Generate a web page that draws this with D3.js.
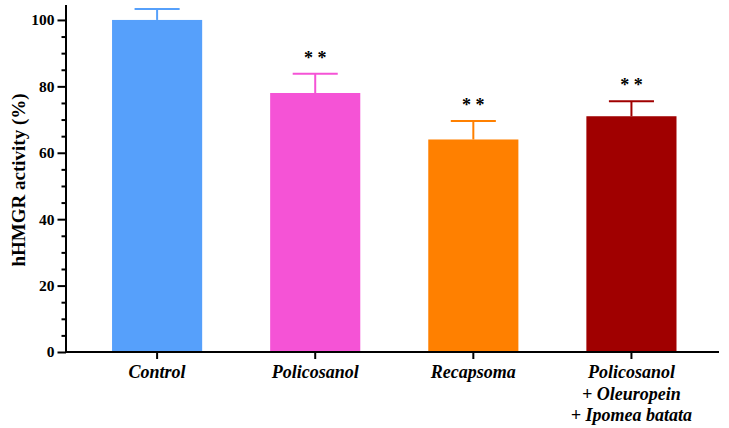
<!DOCTYPE html>
<html>
<head>
<meta charset="utf-8">
<script src="https://cdn.jsdelivr.net/npm/d3@7"></script>
<style>
  body { margin: 0; background: #fff; }
  svg { display: block; font-family: "Liberation Serif", "Times New Roman", serif; }
</style>
</head>
<body>
<svg class="chart" width="729" height="428"></svg>
<script>
// chart data
const categories = ["Control", "Policosanol", "Recapsoma", "Combo"];
const labelLines = [
  ["Control"],
  ["Policosanol"],
  ["Recapsoma"],
  ["Policosanol", "+ Oleuropein", "+ Ipomea batata"]
];
const values = [100, 78, 64, 71];
const errors = [3.3, 5.8, 5.6, 4.5];
const signif = ["", "* *", "* *", "* *"];
const colors = ["#56a0fb", "#f553d6", "#ff8000", "#a00000"];
const majorTicks = [0, 20, 40, 60, 80, 100];
const minorTicks = d3.range(0, 101, 5);

const svg = d3.select(".chart");

const x = d3.scaleBand()
  .domain(categories)
  .range([66, 719])
  .paddingInner(0.43)
  .paddingOuter(0.28)
  .align(0.52);

const y = d3.scaleLinear()
  .domain([0, 104.5])
  .range([352, 5]);

const rows = categories.map((c, i) => ({
  cat: c, value: values[i], err: errors[i], sig: signif[i], color: colors[i], lines: labelLines[i]
}));

// bars
svg.selectAll("rect.bar")
  .data(rows)
  .enter().append("rect")
  .attr("class", "bar")
  .attr("x", d => x(d.cat))
  .attr("width", x.bandwidth())
  .attr("y", d => y(d.value))
  .attr("height", d => y(0) - y(d.value))
  .attr("fill", d => d.color);

// error bars (upper only)
const eb = svg.selectAll("g.err")
  .data(rows)
  .enter().append("g")
  .attr("class", "err")
  .attr("stroke", d => d.color)
  .attr("stroke-width", 2);

eb.append("line")
  .attr("x1", d => x(d.cat) + x.bandwidth() / 2)
  .attr("x2", d => x(d.cat) + x.bandwidth() / 2)
  .attr("y1", d => y(d.value))
  .attr("y2", d => y(d.value + d.err));

eb.append("line")
  .attr("x1", d => x(d.cat) + x.bandwidth() / 4)
  .attr("x2", d => x(d.cat) + x.bandwidth() * 3 / 4)
  .attr("y1", d => y(d.value + d.err))
  .attr("y2", d => y(d.value + d.err));

// significance stars
svg.selectAll("text.sig")
  .data(rows)
  .enter().append("text")
  .attr("class", "sig")
  .attr("x", d => x(d.cat) + x.bandwidth() / 2)
  .attr("y", d => y(d.value + d.err) - 10)
  .attr("text-anchor", "middle")
  .attr("font-size", 18)
  .attr("font-weight", "bold")
  .attr("fill", "#000")
  .text(d => d.sig);

// y axis
const yAxis = svg.append("g")
  .attr("transform", "translate(66,0)")
  .call(d3.axisLeft(y).tickValues(majorTicks).tickSize(8.5).tickPadding(3).tickFormat(d3.format("d")));
yAxis.select(".domain").attr("stroke-width", 2).attr("d", "M0," + y(104.5) + "V" + y(0));
yAxis.selectAll(".tick line").attr("stroke-width", 2);
yAxis.selectAll(".tick text")
  .attr("font-family", "Liberation Serif, serif")
  .attr("font-size", 15.5)
  .attr("font-weight", "bold")
  .attr("fill", "#000");

const yMinor = svg.append("g")
  .attr("transform", "translate(66,0)")
  .call(d3.axisLeft(y).tickValues(minorTicks.filter(v => v % 20 !== 0)).tickSize(4.5).tickFormat(""));
yMinor.select(".domain").remove();
yMinor.selectAll(".tick line").attr("stroke-width", 2);

// x axis
const xAxis = svg.append("g")
  .attr("transform", "translate(0,352)")
  .call(d3.axisBottom(x).tickSize(7).tickFormat(""));
xAxis.select(".domain").attr("stroke-width", 2).attr("d", "M66,0H719");
xAxis.selectAll(".tick line").attr("stroke-width", 2);

// category labels
const lab = svg.selectAll("text.cat")
  .data(rows)
  .enter().append("text")
  .attr("class", "cat")
  .attr("text-anchor", "middle")
  .attr("font-size", 18)
  .attr("font-weight", "bold")
  .attr("font-style", "italic")
  .attr("fill", "#000")
  .attr("transform", d => "translate(" + (x(d.cat) + x.bandwidth() / 2) + ",378)");

lab.selectAll("tspan")
  .data(d => d.lines)
  .enter().append("tspan")
  .attr("x", 0)
  .attr("y", (l, i) => i * 21.5)
  .text(l => l);

// y title
svg.append("text")
  .attr("transform", "translate(25,180) rotate(-90)")
  .attr("text-anchor", "middle")
  .attr("font-size", 19)
  .attr("font-weight", "bold")
  .attr("fill", "#000")
  .text("hHMGR activity (%)");
</script>
</body>
</html>
